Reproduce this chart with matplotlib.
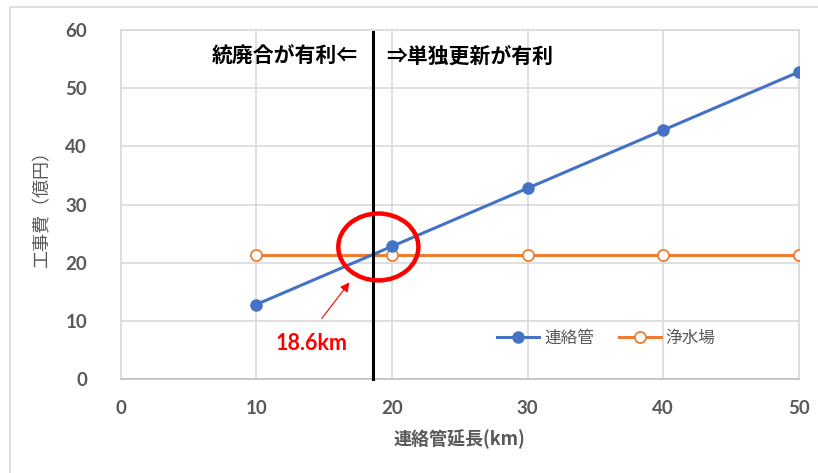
import numpy as np
import matplotlib
matplotlib.use("Agg")
import matplotlib.pyplot as plt
from matplotlib.patches import Ellipse, Rectangle

plt.rcParams['font.family'] = ['Noto Sans CJK JP', 'DejaVu Sans']

# 連絡管延長 (km) と工事費 (億円)
length_km = [10, 20, 30, 40, 50]
pipe_cost = [12.8, 22.8, 32.8, 42.8, 52.8]
plant_cost = [21.4, 21.4, 21.4, 21.4, 21.4]
break_even = 18.6

x_ticks = [0, 10, 20, 30, 40, 50]
y_ticks = [0, 10, 20, 30, 40, 50, 60]

blue = '#4472C4'
orange = '#ED7D31'
gray = '#595959'

fig = plt.figure(figsize=(8.18, 4.73), dpi=100)
# 外枠
fig.patches.append(Rectangle((9.5 / 818, -0.1), 1.2, 1.1 - 7 / 473, transform=fig.transFigure,
                             fill=False, edgecolor='#D9D9D9', linewidth=1.2))
ax = fig.add_axes([120.5 / 818, 1 - 379 / 473, (799 - 120.5) / 818, (379 - 30) / 473])

ax.plot(length_km, pipe_cost, color=blue, lw=2.2, marker='o', ms=8,
        mfc=blue, mec=blue, label='連絡管', zorder=4)
ax.plot(length_km, plant_cost, color=orange, lw=2.2, marker='o', ms=8,
        mfc='white', mec=orange, mew=1.3, label='浄水場', zorder=3)

ax.set_xlim(0, 50)
ax.set_ylim(0, 60)
ax.set_xticks(x_ticks)
ax.set_yticks(y_ticks)
ax.grid(True, color='#D9D9D9', lw=1.2)
ax.set_axisbelow(True)
for s in ax.spines.values():
    s.set_color('#D9D9D9')
    s.set_linewidth(1.2)
ax.spines['bottom'].set_color('#BFBFBF')
ax.tick_params(length=0, labelsize=13.5, labelcolor=gray)
ax.tick_params(axis='y', pad=24)
ax.tick_params(axis='x', pad=15)
for lab in ax.get_xticklabels() + ax.get_yticklabels():
    lab.set_fontfamily(['Lato', 'DejaVu Sans'])
    lab.set_fontweight('bold')

ax.set_xlabel('連絡管延長(km)', fontsize=13, color=gray, fontweight='bold', labelpad=9)
ax.set_ylabel('工事費（億円）', fontsize=13, color=gray, labelpad=10)

# 分岐点の縦線
ax.plot([break_even, break_even], [0, 59.6], color='black', lw=2.2, zorder=5, clip_on=False)
ax.text(break_even - 1.1, 55.4, '統廃合が有利⇐', ha='right', va='center',
        fontsize=15, fontweight='bold', color='black')
ax.text(break_even + 1.0, 55.4, '⇒単独更新が有利', ha='left', va='center',
        fontsize=15, fontweight='bold', color='black')

# 交点の丸と注記
ax.add_patch(Ellipse((19.0, 22.7), 5.9, 11.5, fill=False, edgecolor='red', lw=3.2, zorder=6))
ax.annotate('', xy=(17.0, 17.0), xytext=(14.7, 10.0),
            arrowprops=dict(arrowstyle='-|>', color='red', lw=0.8, mutation_scale=14))
ax.text(14.1, 6.1, f'{break_even}km', ha='center', va='center', fontsize=15.5,
        fontweight='bold', color='red', family=['Lato', 'DejaVu Sans'])

leg = ax.legend(loc='center', bbox_to_anchor=(606.5 / 818, 1 - 338 / 473),
                bbox_transform=fig.transFigure, ncol=2, frameon=False,
                fontsize=12, handlelength=2.5, columnspacing=1.5, handletextpad=0.3)
for t in leg.get_texts():
    t.set_color(gray)

fig.savefig('out.png', dpi=100)
